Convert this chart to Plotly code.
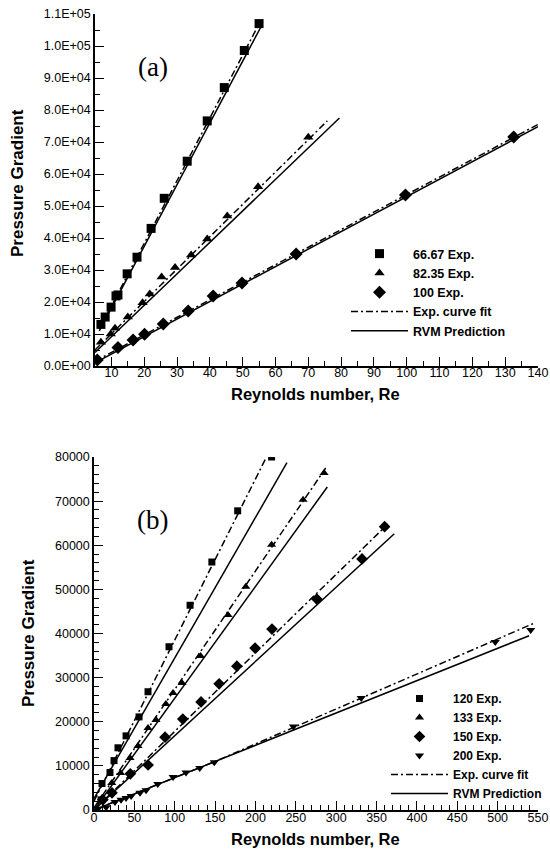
import plotly.graph_objects as go

# ---------------- Panel (a) data ----------------
sq_a_re = [6.8, 8.1, 9.9, 11.4, 12.0, 14.8, 17.8, 22.1, 26.1, 33.1, 39.2, 44.4, 50.5, 55.0]
sq_a_p = [13000, 15300, 18400, 21900, 22200, 28800, 34000, 43000, 52400, 64000, 76600, 87000, 98600, 107000]
tri_a_re = [6.8, 9.8, 11.1, 15.0, 19.5, 21.7, 25.3, 29.4, 34.3, 39.2, 45.3, 54.7, 70.0]
tri_a_p = [7400, 10000, 11800, 15300, 19800, 22500, 27800, 30800, 34700, 39700, 46900, 56000, 71500]
dia_a_re = [5.7, 12.0, 16.6, 20.1, 25.8, 33.4, 41.0, 49.8, 66.3, 99.6, 132.6]
dia_a_p = [1900, 5800, 8100, 9900, 13100, 17200, 21900, 25900, 35000, 53400, 71600]

fit_sq_a_re = [6.3, 55.3]
fit_sq_a_p = [11500, 107500]
rvm_sq_a_re = [6.3, 56.0]
rvm_sq_a_p = [11000, 106800]
fit_tri_a_re = [5, 75.8]
fit_tri_a_p = [5000, 76600]
rvm_tri_a_re = [5, 79.5]
rvm_tri_a_p = [4200, 77500]
fit_dia_a_re = [5, 140]
fit_dia_a_p = [1500, 75500]
rvm_dia_a_re = [5, 140]
rvm_dia_a_p = [1000, 74800]

# ---------------- Panel (b) data ----------------
sq_b_re = [8.7, 9.9, 19.8, 24.8, 29.7, 39.7, 55.8, 66.9, 92.9, 119, 146, 178, 220]
sq_b_p = [2300, 6000, 8500, 11200, 14100, 16800, 21100, 26800, 37000, 46400, 56200, 67800, 80000]
tri_b_re = [9.9, 22, 33, 44.6, 54.5, 66.9, 76.8, 89, 97.9, 109, 132, 166, 188, 220, 259, 285]
tri_b_p = [2700, 6100, 8400, 11800, 14500, 18600, 20400, 24000, 26500, 28800, 34900, 44200, 50600, 60100, 70300, 76400]
dia_b_re = [11, 22.3, 45, 67, 88, 110, 132.6, 155, 177, 199.5, 220.5, 276, 332, 360]
dia_b_p = [2300, 3900, 8200, 10200, 16500, 20600, 24500, 28600, 32600, 36700, 41000, 47800, 56900, 64200]
dt_b_re = [5, 15, 26, 33.5, 39.7, 46, 57, 64.5, 79, 98, 114, 131, 149, 247, 331, 497, 541]
dt_b_p = [300, 600, 1800, 2300, 2700, 3200, 3900, 4500, 5900, 7500, 8500, 9500, 10800, 18900, 25400, 38100, 40800]

fit_sq_b_re = [0, 212]
fit_sq_b_p = [2000, 79400]
rvm_sq_b_re = [0, 239]
rvm_sq_b_p = [2600, 78700]
fit_tri_b_re = [0, 287]
fit_tri_b_p = [500, 77500]
rvm_tri_b_re = [0, 289]
rvm_tri_b_p = [0, 73200]
fit_dia_b_re = [0, 364]
fit_dia_b_p = [0, 64800]
rvm_dia_b_re = [0, 372]
rvm_dia_b_p = [0, 62600]
fit_dt_b_re = [0, 150, 546]
fit_dt_b_p = [0, 11000, 42400]
rvm_dt_b_re = [0, 539]
rvm_dt_b_p = [0, 39500]

# tick labels
ya_vals = [0, 10000, 20000, 30000, 40000, 50000, 60000, 70000, 80000, 90000, 100000, 110000]
ya_text = ["0.0E+00", "1.0E+04", "2.0E+04", "3.0E+04", "4.0E+04", "5.0E+04",
           "6.0E+04", "7.0E+04", "8.0E+04", "9.0E+04", "1.0E+05", "1.1E+05"]
xa_vals = [10, 20, 30, 40, 50, 60, 70, 80, 90, 100, 110, 120, 130, 140]
yb_vals = [0, 10000, 20000, 30000, 40000, 50000, 60000, 70000, 80000]
yb_text = ["0", "10000", "20000", "30000", "40000", "50000", "60000", "70000", "80000"]
xb_vals = [0, 50, 100, 150, 200, 250, 300, 350, 400, 450, 500, 550]

FONT = "Liberation Sans, Arial, sans-serif"
DASHDOT = "7px,3px,2px,3px"

fig = go.Figure()

def marker_trace(x, y, name, symbol, size, xa, ya, leg, rank):
    fig.add_trace(go.Scatter(x=x, y=y, mode="markers", name=name,
                             marker=dict(symbol=symbol, size=size, color="black"),
                             xaxis=xa, yaxis=ya, legend=leg, legendrank=rank))

def line_trace(x, y, name, dash, xa, ya, leg, rank, show):
    fig.add_trace(go.Scatter(x=x, y=y, mode="lines", name=name,
                             line=dict(color="black", width=1.5, dash=dash),
                             xaxis=xa, yaxis=ya, legend=leg, legendrank=rank,
                             showlegend=show))

# panel (a)
line_trace(fit_sq_a_re, fit_sq_a_p, "Exp. curve fit", DASHDOT, "x", "y", "legend", 10, True)
line_trace(fit_tri_a_re, fit_tri_a_p, "Exp. curve fit", DASHDOT, "x", "y", "legend", 10, False)
line_trace(fit_dia_a_re, fit_dia_a_p, "Exp. curve fit", DASHDOT, "x", "y", "legend", 10, False)
line_trace(rvm_sq_a_re, rvm_sq_a_p, "RVM Prediction", "solid", "x", "y", "legend", 11, True)
line_trace(rvm_tri_a_re, rvm_tri_a_p, "RVM Prediction", "solid", "x", "y", "legend", 11, False)
line_trace(rvm_dia_a_re, rvm_dia_a_p, "RVM Prediction", "solid", "x", "y", "legend", 11, False)
marker_trace(sq_a_re, sq_a_p, "66.67 Exp.", "square", 9, "x", "y", "legend", 1)
marker_trace(tri_a_re, tri_a_p, "82.35 Exp.", "triangle-up", 9, "x", "y", "legend", 2)
marker_trace(dia_a_re, dia_a_p, "100 Exp.", "diamond", 10, "x", "y", "legend", 3)

# panel (b)
line_trace(fit_sq_b_re, fit_sq_b_p, "Exp. curve fit", DASHDOT, "x2", "y2", "legend2", 10, True)
line_trace(fit_tri_b_re, fit_tri_b_p, "Exp. curve fit", DASHDOT, "x2", "y2", "legend2", 10, False)
line_trace(fit_dia_b_re, fit_dia_b_p, "Exp. curve fit", DASHDOT, "x2", "y2", "legend2", 10, False)
line_trace(fit_dt_b_re, fit_dt_b_p, "Exp. curve fit", DASHDOT, "x2", "y2", "legend2", 10, False)
line_trace(rvm_sq_b_re, rvm_sq_b_p, "RVM Prediction", "solid", "x2", "y2", "legend2", 11, True)
line_trace(rvm_tri_b_re, rvm_tri_b_p, "RVM Prediction", "solid", "x2", "y2", "legend2", 11, False)
line_trace(rvm_dia_b_re, rvm_dia_b_p, "RVM Prediction", "solid", "x2", "y2", "legend2", 11, False)
line_trace(rvm_dt_b_re, rvm_dt_b_p, "RVM Prediction", "solid", "x2", "y2", "legend2", 11, False)
marker_trace(sq_b_re, sq_b_p, "120 Exp.", "square", 7, "x2", "y2", "legend2", 1)
marker_trace(tri_b_re, tri_b_p, "133 Exp.", "triangle-up", 8, "x2", "y2", "legend2", 2)
marker_trace(dia_b_re, dia_b_p, "150 Exp.", "diamond", 9, "x2", "y2", "legend2", 3)
marker_trace(dt_b_re, dt_b_p, "200 Exp.", "triangle-down", 8, "x2", "y2", "legend2", 4)

# empty traces so the label-only overlay axes are drawn
fig.add_trace(go.Scatter(x=[], y=[], xaxis="x3", yaxis="y", showlegend=False, hoverinfo="skip"))
fig.add_trace(go.Scatter(x=[], y=[], xaxis="x4", yaxis="y2", showlegend=False, hoverinfo="skip"))

W, H = 550, 851
def px(x):
    return x / W
def py(y):
    return 1 - y / H

TICKFONT = dict(family=FONT, size=12.5, color="black")
axis_common = dict(showline=True, linecolor="black", linewidth=1.5, showgrid=False,
                   zeroline=False, ticks="inside", ticklen=9, tickwidth=1.2, tickcolor="black",
                   tickfont=TICKFONT, automargin=False, mirror=False)
label_axis = dict(showline=False, showgrid=False, zeroline=False, ticks="",
                  tickfont=TICKFONT, automargin=False, anchor="free")

fig.update_layout(
    width=W, height=H,
    paper_bgcolor="white", plot_bgcolor="white",
    margin=dict(l=0, r=0, t=0, b=0, autoexpand=False),
    showlegend=True,
    xaxis=dict(domain=[px(95), px(538)], range=[5, 140], anchor="y",
               tickvals=xa_vals, showticklabels=False,
               minor=dict(ticks="inside", ticklen=5, tick0=5, dtick=10, tickcolor="black", tickwidth=1),
               **axis_common),
    xaxis3=dict(domain=[px(95), px(538)], range=[5, 140], overlaying="x",
                position=py(363), tickvals=xa_vals, **label_axis),
    yaxis=dict(domain=[py(366), py(14)], range=[0, 110000], anchor="x",
               tickvals=ya_vals, ticktext=ya_text,
               minor=dict(ticks="inside", ticklen=5, tick0=5000, dtick=10000, tickcolor="black", tickwidth=1),
               **axis_common),
    xaxis2=dict(domain=[px(94), px(538)], range=[0, 550], anchor="y2",
                tickvals=xb_vals, showticklabels=False,
                minor=dict(ticks="inside", ticklen=5, tick0=0, dtick=10, tickcolor="black", tickwidth=1),
                **axis_common),
    xaxis4=dict(domain=[px(94), px(538)], range=[0, 550], overlaying="x2",
                position=py(808), tickvals=xb_vals, **label_axis),
    yaxis2=dict(domain=[py(810), py(457)], range=[0, 80000], anchor="x2",
                tickvals=yb_vals, ticktext=yb_text,
                minor=dict(ticks="inside", ticklen=5, tick0=0, dtick=2000, tickcolor="black", tickwidth=1),
                **axis_common),
    legend=dict(x=px(346), y=py(239), xanchor="left", yanchor="top",
                bgcolor="rgba(0,0,0,0)", itemwidth=57, tracegroupgap=0,
                font=dict(family=FONT, size=12.5, color="black", weight="bold")),
    legend2=dict(x=px(386), y=py(684), xanchor="left", yanchor="top",
                 bgcolor="rgba(0,0,0,0)", itemwidth=57, tracegroupgap=0,
                 font=dict(family=FONT, size=12, color="black", weight="bold")),
)

ann = []
title_font = dict(family=FONT, size=16.5, color="black", weight="bold")
ann.append(dict(text="Reynolds number, Re", x=px(315), y=py(394), xref="paper", yref="paper",
                showarrow=False, font=title_font, xanchor="center", yanchor="middle"))
ann.append(dict(text="Reynolds number, Re", x=px(315), y=py(839), xref="paper", yref="paper",
                showarrow=False, font=title_font, xanchor="center", yanchor="middle"))
ann.append(dict(text="Pressure Gradient", x=px(18), y=py(183), xref="paper", yref="paper",
                showarrow=False, font=dict(family=FONT, size=17, color="black", weight="bold"),
                textangle=-90, xanchor="center", yanchor="middle"))
ann.append(dict(text="Pressure Gradient", x=px(28), y=py(633), xref="paper", yref="paper",
                showarrow=False, font=dict(family=FONT, size=17, color="black", weight="bold"),
                textangle=-90, xanchor="center", yanchor="middle"))
ann.append(dict(text="(a)", x=px(153), y=py(67), xref="paper", yref="paper", showarrow=False,
                font=dict(family="Liberation Serif, Times New Roman, serif", size=27, color="black"),
                xanchor="center", yanchor="middle"))
ann.append(dict(text="(b)", x=px(152), y=py(520), xref="paper", yref="paper", showarrow=False,
                font=dict(family="Liberation Serif, Times New Roman, serif", size=27, color="black"),
                xanchor="center", yanchor="middle"))
fig.update_layout(annotations=ann)

fig.write_html("out.html", post_script="document.body.style.margin='0';",
               config={"displayModeBar": False})
